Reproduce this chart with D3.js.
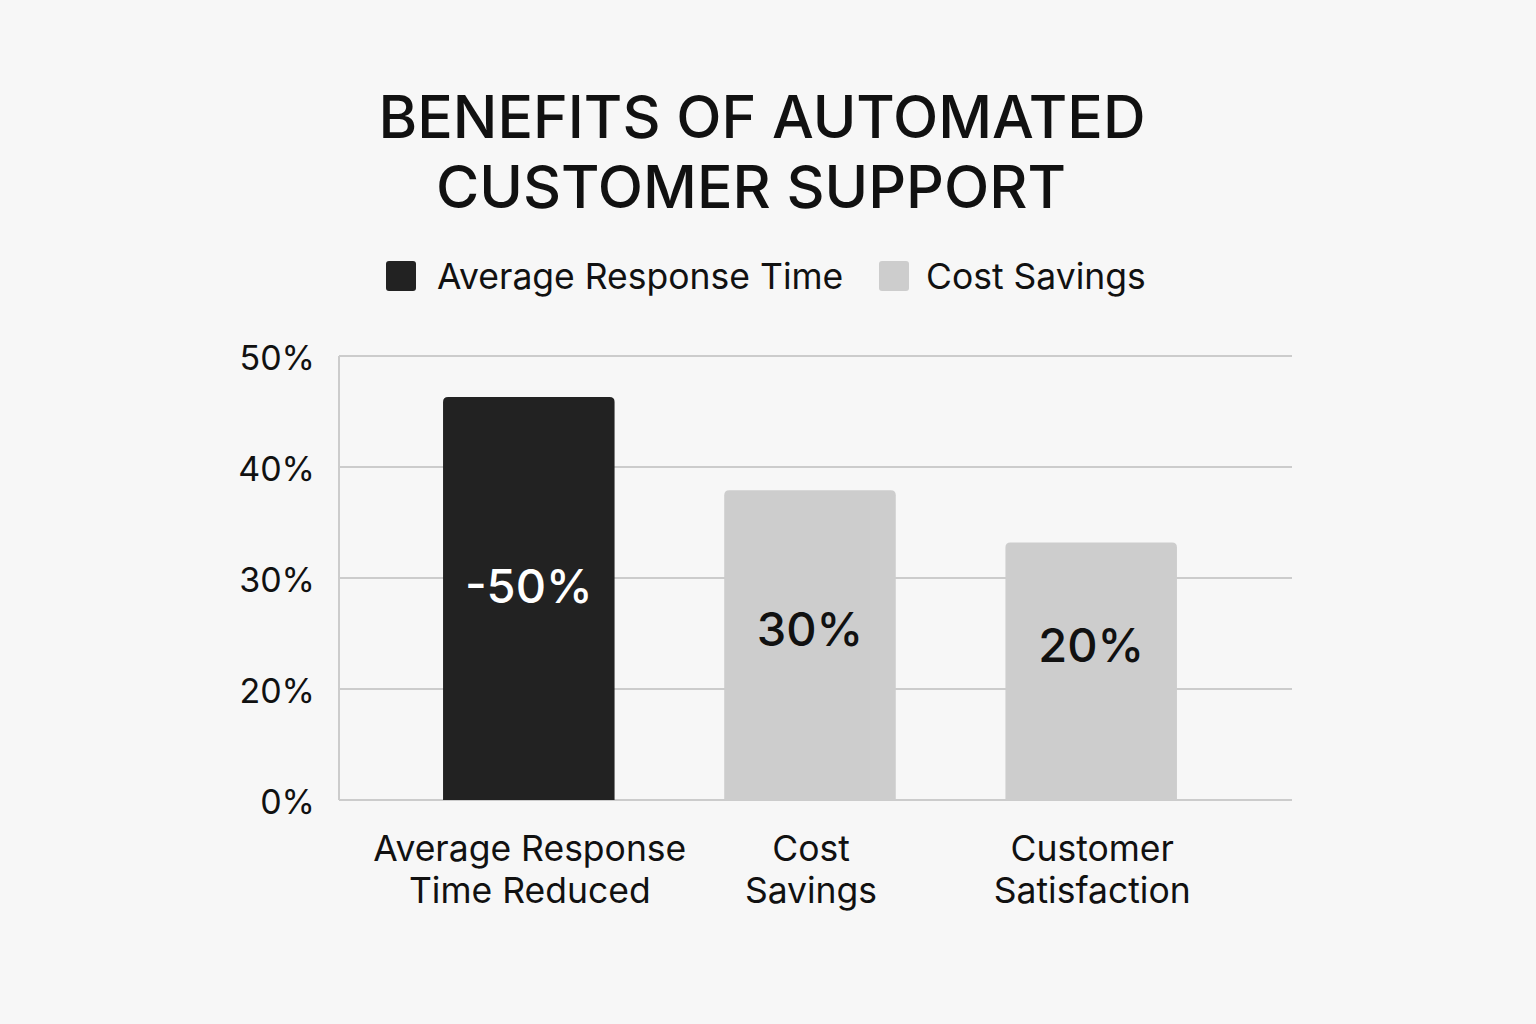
<!DOCTYPE html>
<html>
<head>
<meta charset="utf-8">
<script src="https://cdn.jsdelivr.net/npm/d3@7"></script>
<style>
  html, body { margin: 0; padding: 0; background: #f7f7f7; }
  svg { display: block; }
</style>
</head>
<body>
<div id="chart"></div>
<script>
const categories = [['Average Response', 'Time Reduced'], ['Cost', 'Savings'], ['Customer', 'Satisfaction']];
const barValues = [46.3, 37.9, 33.2];
const barLabels = ['-50%', '30%', '20%'];
const barSeries = ['Average Response Time', 'Cost Savings', 'Cost Savings'];
const legendItems = ['Average Response Time', 'Cost Savings'];
const tickValues = [0, 20, 30, 40, 50];
const tickLabels = ['0%', '20%', '30%', '40%', '50%'];

const W = 1536, H = 1024;
const FONT = "Inter, 'Open Sans', sans-serif";
const color = d3.scaleOrdinal().domain(legendItems).range(['#222222', '#cdcdcd']);

const svg = d3.select('#chart').append('svg')
  .attr('width', W).attr('height', H)
  .style('background', '#f7f7f7');

// Title
svg.append('text')
  .attr('x', 762).attr('y', 138)
  .attr('text-anchor', 'middle')
  .attr('font-family', FONT).attr('font-weight', 500)
  .attr('font-size', '59px').attr('fill', '#111')
  .selectAll('tspan')
  .data(['BENEFITS OF AUTOMATED', 'CUSTOMER SUPPORT']).enter().append('tspan')
  .attr('x', (d, i) => i ? 751 : 762)
  .attr('dy', (d, i) => i ? 70 : 0)
  .text(d => d);

// Legend
const legX = [386, 879];
const leg = svg.append('g').selectAll('g')
  .data(legendItems).enter().append('g')
  .attr('transform', (d, i) => `translate(${legX[i]},261)`);
leg.append('rect')
  .attr('width', 30).attr('height', 30).attr('rx', 3)
  .attr('fill', d => color(d));
leg.append('text')
  .attr('x', (d, i) => i ? 47 : 51).attr('y', 28)
  .attr('font-family', FONT).attr('font-size', '35.5px').attr('fill', '#111')
  .text(d => d);

// Scales -- the axis skips 10%, so 0% sits one gridline below 20%
const y = d3.scaleLinear().domain([0, 20, 50]).range([800, 689, 356]);
const x = d3.scaleBand().domain(d3.range(categories.length)).range([339, 1281])
  .paddingInner(0.39).paddingOuter(0.37);

// Grid
svg.append('g').selectAll('line')
  .data(tickValues).enter().append('line')
  .attr('x1', 339).attr('x2', 1292)
  .attr('y1', d => y(d)).attr('y2', d => y(d))
  .attr('stroke', '#cccccc').attr('stroke-width', 2);
svg.append('line')
  .attr('x1', 339).attr('x2', 339)
  .attr('y1', y(50)).attr('y2', y(0))
  .attr('stroke', '#cccccc').attr('stroke-width', 2);

// Y axis labels
const yAxis = svg.append('g').attr('transform', 'translate(339,0)')
  .call(d3.axisLeft(y).tickValues(tickValues).tickSize(0).tickPadding(24)
    .tickFormat((d, i) => tickLabels[i]));
yAxis.select('.domain').remove();
yAxis.selectAll('text')
  .attr('font-family', FONT).attr('font-size', '34px').attr('fill', '#111')
  .attr('dy', '0.4em');

// Bars with rounded top corners
const r = 5;
const barPath = (x0, y0, w, y1) =>
  `M${x0},${y1}V${y0 + r}Q${x0},${y0} ${x0 + r},${y0}H${x0 + w - r}Q${x0 + w},${y0} ${x0 + w},${y0 + r}V${y1}Z`;

svg.append('g').selectAll('path')
  .data(barValues).enter().append('path')
  .attr('d', (d, i) => barPath(x(i), y(d), x.bandwidth(), y(0)))
  .attr('fill', (d, i) => color(barSeries[i]));

// Value labels inside bars
svg.append('g').selectAll('text')
  .data(barValues).enter().append('text')
  .attr('x', (d, i) => x(i) + x.bandwidth() / 2)
  .attr('y', (d, i) => y(d) + (y(0) - y(d)) * [0.47, 0.45, 0.40][i])
  .attr('dy', '0.35em')
  .attr('text-anchor', 'middle')
  .attr('font-family', FONT).attr('font-weight', 500).attr('font-size', '47px')
  .attr('fill', (d, i) => i === 0 ? '#ffffff' : '#111111')
  .text((d, i) => barLabels[i]);

// Category labels
const cat = svg.append('g').selectAll('text')
  .data(categories).enter().append('text')
  .attr('text-anchor', 'middle')
  .attr('font-family', FONT).attr('font-size', '35.5px').attr('fill', '#111');
cat.selectAll('tspan')
  .data((d, i) => d.map(t => ({ t, i }))).enter().append('tspan')
  .attr('x', d => x(d.i) + x.bandwidth() / 2 + 1)
  .attr('y', (d, j) => 861 + j * 42)
  .text(d => d.t);
</script>
</body>
</html>
